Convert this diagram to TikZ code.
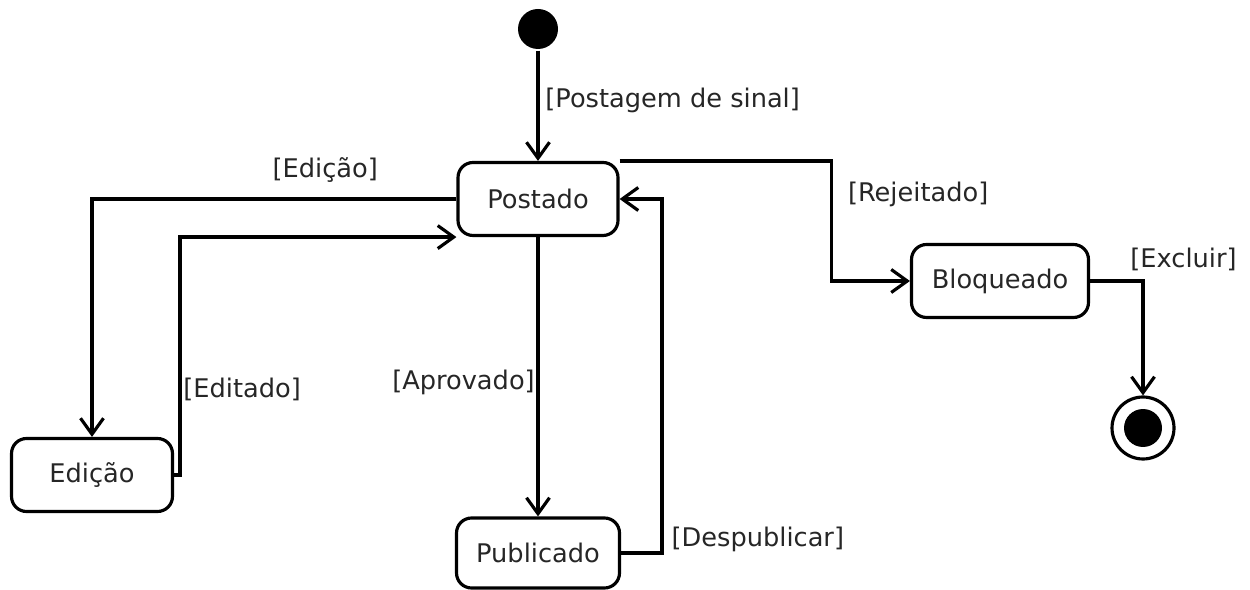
\documentclass[tikz,border=0pt]{standalone}
\usepackage{fontspec}
\setmainfont{DejaVu Sans}
\usetikzlibrary{arrows.meta, positioning}

\begin{document}
\begin{tikzpicture}[x=0.02cm, y=-0.02cm, line width=1.8pt, % 1 unidade = 1 px
  every node/.style={font=\fontsize{14.6}{16}\selectfont, text=black!85},
  estado/.style={draw, rounded corners=0.3cm, minimum height=1.46cm},
  seta/.style={-{Straight Barb[length=0.32cm, width=0.46cm]}},
  inicio/.style={circle, fill=black, minimum size=0.8cm, inner sep=0pt},
  final/.style={circle, draw, minimum size=1.24cm, inner sep=0pt,
    path picture={\fill (path picture bounding box.center) circle (0.38cm);}}]
  \useasboundingbox (0,0) rectangle (1250,590);

  \node[inicio] (ini) at (538,29) {};
  \node[estado, minimum width=3.2cm] (postado) at (538,199) {Postado};
  \node[estado, minimum width=3.54cm] (bloqueado) at (1000,281) {Bloqueado};
  \node[estado, minimum width=3.22cm] (edicao) at (92,475) {Edição};
  \node[estado, minimum width=3.26cm, minimum height=1.4cm] (publicado) at (538,553) {Publicado};
  \node[final] (fim) at (1143,428) {};

  \draw[seta] (ini) -- node[pos=0.45, right] {[Postagem de sinal]} (postado);
  \draw[seta] (postado.west) -| node[pos=0.18, above=0.18cm] {[Edição]} (edicao.north);
  \draw[seta] (edicao.east) -- ++(6,0) |- node[pos=0.18, right, inner sep=1pt] {[Editado]} (postado.south west);
  \draw[seta] (postado) -- node[pos=0.52, left, inner sep=1pt] {[Aprovado]} (publicado);
  \draw[seta] (publicado.east) -- ++(41,0) node[anchor=south west, inner sep=0pt, xshift=0.16cm] {[Despublicar]} |- (postado.east);
  \draw[seta] (postado.north east) -- ++(212,0) node[anchor=north west, xshift=0.18cm, yshift=-0.28cm] {[Rejeitado]} |- (bloqueado.west);
  \draw[seta] (bloqueado.east) -| node[pos=0.5, anchor=south west, xshift=-0.4cm, yshift=0.05cm] {[Excluir]} (fim.north);
\end{tikzpicture}
\end{document}
